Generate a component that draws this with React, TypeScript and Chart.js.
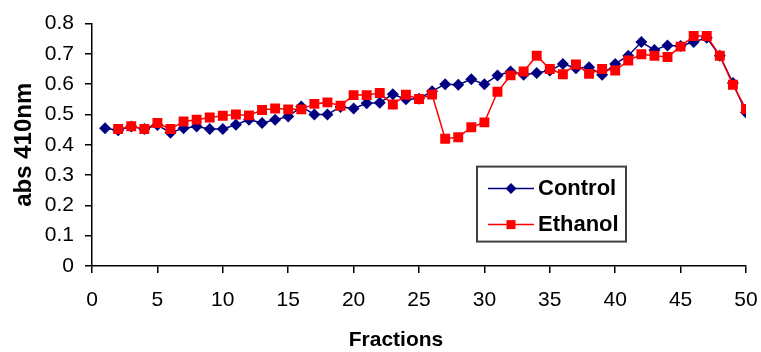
import React, { useEffect, useRef } from 'react';
import { Chart, registerables } from 'chart.js';

Chart.register(...registerables);

const fractions = [1, 2, 3, 4, 5, 6, 7, 8, 9, 10, 11, 12, 13, 14, 15, 16, 17, 18, 19, 20, 21, 22, 23, 24, 25, 26, 27, 28, 29, 30, 31, 32, 33, 34, 35, 36, 37, 38, 39, 40, 41, 42, 43, 44, 45, 46, 47, 48, 49, 50];

const control = [0.455, 0.448, 0.46, 0.452, 0.465, 0.44, 0.455, 0.46, 0.452, 0.452, 0.466, 0.483, 0.472, 0.483, 0.493, 0.526, 0.5, 0.5, 0.525, 0.52, 0.537, 0.539, 0.567, 0.55, 0.552, 0.577, 0.6, 0.598, 0.616, 0.6, 0.629, 0.642, 0.631, 0.637, 0.645, 0.667, 0.653, 0.656, 0.631, 0.667, 0.694, 0.739, 0.713, 0.728, 0.726, 0.739, 0.753, 0.694, 0.604, 0.507];

const ethanol = [null, 0.452, 0.461, 0.452, 0.472, 0.452, 0.477, 0.483, 0.49, 0.496, 0.5, 0.497, 0.515, 0.52, 0.517, 0.517, 0.535, 0.54, 0.529, 0.564, 0.564, 0.571, 0.533, 0.565, 0.551, 0.566, 0.42, 0.425, 0.458, 0.474, 0.575, 0.629, 0.642, 0.694, 0.65, 0.633, 0.665, 0.634, 0.65, 0.645, 0.678, 0.699, 0.694, 0.69, 0.724, 0.759, 0.759, 0.694, 0.598, 0.518];

const seriesNames = ['Control', 'Ethanol'];
const seriesColors = ['#000080', '#FF0000'];
const xTitle = 'Fractions';
const yTitle = 'abs 410nm';

const FONT = "'Liberation Sans', Arial, sans-serif";

const boxLegend = {
  id: 'boxLegend',
  afterDraw(chart: any) {
    const { ctx, chartArea } = chart;
    ctx.save();
    // x axis title (offset left of centre, as in the original)
    ctx.fillStyle = '#000';
    ctx.font = `bold 21px ${FONT}`;
    ctx.textAlign = 'center';
    ctx.textBaseline = 'middle';
    ctx.fillText(xTitle, chartArea.left + 304, chartArea.bottom + 74);

    const left = chartArea.left + 385;
    const top = chartArea.top + 143;
    const w = 149;
    const h = 75;
    ctx.fillStyle = '#ffffff';
    ctx.fillRect(left, top, w, h);
    ctx.strokeStyle = '#404040';
    ctx.lineWidth = 2;
    ctx.strokeRect(left, top, w, h);
    const rows = [top + 22, top + 58];
    rows.forEach((ry, i) => {
      const color = seriesColors[i];
      ctx.strokeStyle = color;
      ctx.lineWidth = 1.5;
      ctx.beginPath();
      ctx.moveTo(left + 11, ry);
      ctx.lineTo(left + 57, ry);
      ctx.stroke();
      ctx.fillStyle = color;
      const cx = left + 34;
      if (i === 0) {
        const r = 5.5;
        ctx.beginPath();
        ctx.moveTo(cx, ry - r);
        ctx.lineTo(cx + r, ry);
        ctx.lineTo(cx, ry + r);
        ctx.lineTo(cx - r, ry);
        ctx.closePath();
        ctx.fill();
      } else {
        const s = 4.5;
        ctx.fillRect(cx - s, ry - s, 2 * s, 2 * s);
      }
      ctx.fillStyle = '#000';
      ctx.font = `bold 22px ${FONT}`;
      ctx.textBaseline = 'middle';
      ctx.textAlign = 'left';
      ctx.fillText(seriesNames[i], left + 61, ry);
    });
    ctx.restore();
  },
};

export default function App() {
  const ref = useRef<HTMLCanvasElement | null>(null);
  useEffect(() => {
    if (!ref.current) return;
    const chart = new Chart(ref.current, {
      type: 'line',
      data: {
        datasets: [
          {
            label: seriesNames[0],
            data: fractions.map((f, i) => ({ x: f, y: control[i] })),
            borderColor: seriesColors[0],
            backgroundColor: seriesColors[0],
            borderWidth: 1.5,
            pointStyle: 'rectRot',
            pointRadius: 6,
            pointBorderWidth: 0,
            order: 2,
          },
          {
            label: seriesNames[1],
            data: fractions.map((f, i) => ({ x: f, y: ethanol[i] })).filter((p) => p.y !== null),
            borderColor: seriesColors[1],
            backgroundColor: seriesColors[1],
            borderWidth: 1.5,
            pointStyle: 'rect',
            pointRadius: 7,
            pointBorderWidth: 0,
            order: 1,
          },
        ],
      },
      options: {
        responsive: false,
        animation: false,
        layout: { padding: { left: 0, right: 15, top: 20, bottom: 0 } },
        plugins: { legend: { display: false }, tooltip: { enabled: false } },
        scales: {
          x: {
            type: 'linear',
            min: 0,
            max: 50,
            ticks: { stepSize: 5, color: '#000', font: { family: FONT, size: 21 }, padding: 15, maxRotation: 0, autoSkip: false },
            grid: { drawOnChartArea: false, drawTicks: true, tickLength: 7, color: '#000', lineWidth: 1.5 },
            border: { color: '#000', width: 1.5 },
            afterFit: (s: any) => { s.height = 86; s.paddingRight = 0; s.paddingLeft = 0; },
          },
          y: {
            min: 0,
            max: 0.8,
            ticks: { stepSize: 0.1, color: '#000', font: { family: FONT, size: 21 }, padding: 11 },
            grid: { drawOnChartArea: false, drawTicks: true, tickLength: 7, color: '#000', lineWidth: 1.5 },
            border: { color: '#000', width: 1.5 },
            title: { display: true, text: yTitle, color: '#000', font: { family: FONT, size: 24, weight: 'bold' }, padding: { top: 10, bottom: 0 } },
            afterFit: (s: any) => { s.width = 92; },
          },
        },
      },
      plugins: [boxLegend],
    } as any);
    return () => chart.destroy();
  }, []);
  return (
    <div style={{ position: 'absolute', left: 0, top: 0, width: 761, height: 352, background: '#fff' }}>
      <canvas ref={ref} width={761} height={352} style={{ display: 'block' }} />
    </div>
  );
}
